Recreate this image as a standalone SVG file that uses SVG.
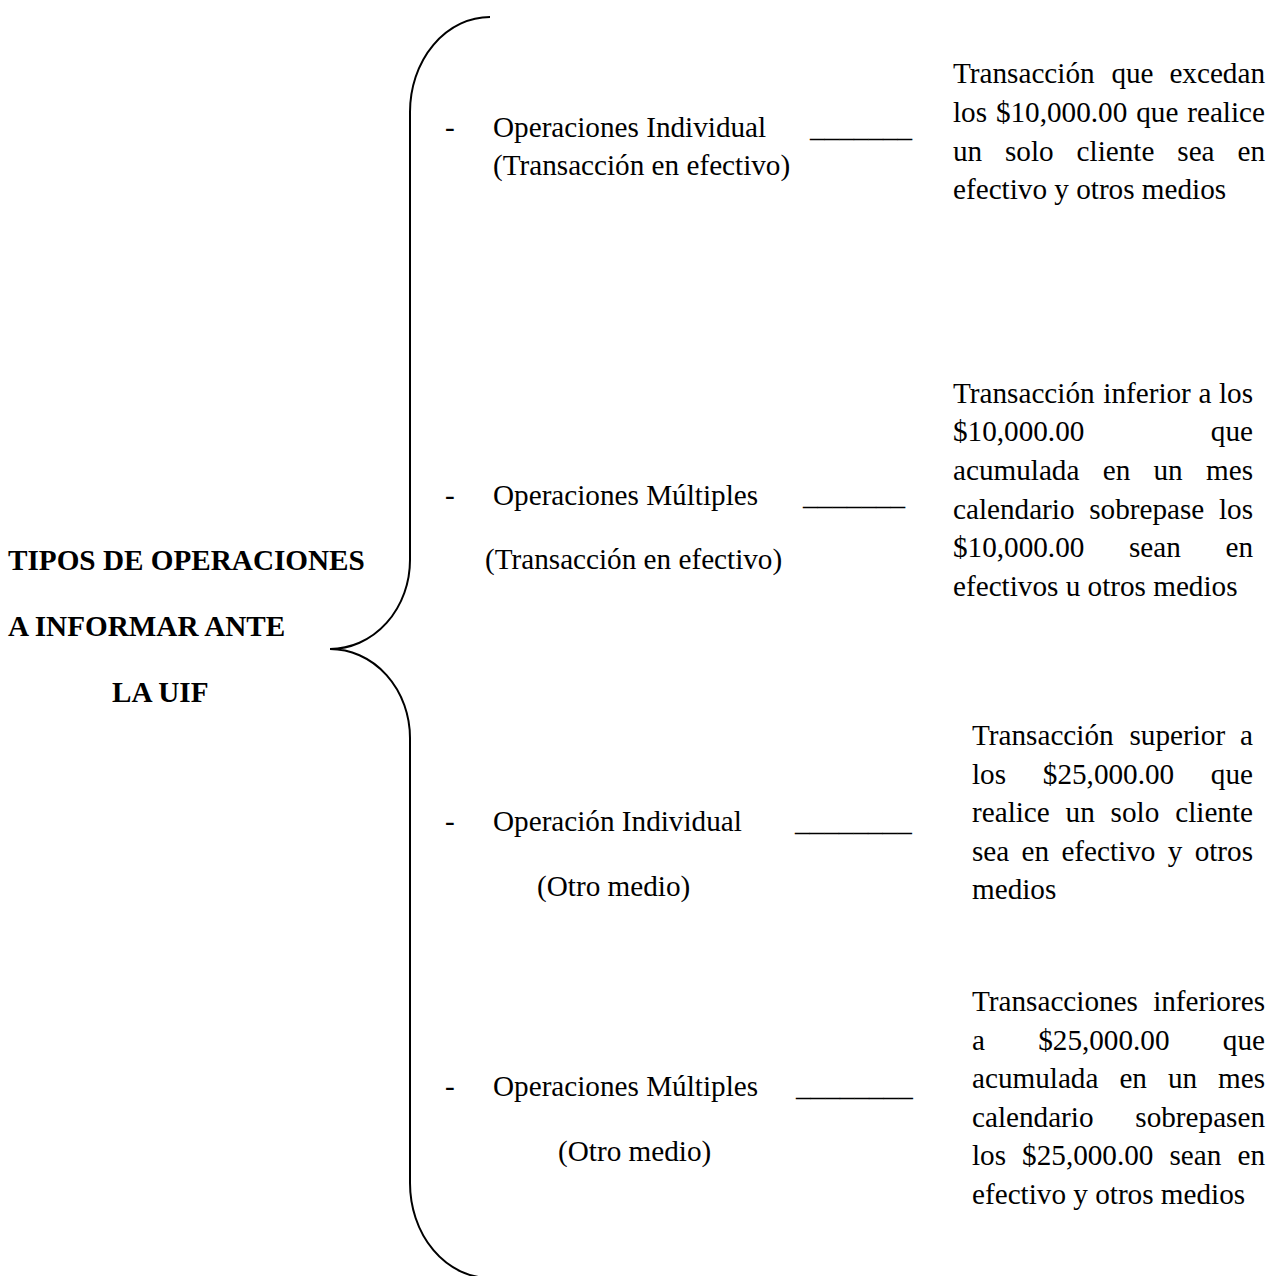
<svg xmlns="http://www.w3.org/2000/svg" width="1272" height="1276" viewBox="0 0 1272 1276">
<style>
text{font-family:"Liberation Serif","Times New Roman",serif;font-size:29.2px;fill:#000}
.b{font-weight:bold}
.e{text-anchor:end}
.brace{fill:none;stroke:#000;stroke-width:2}
</style>
<rect x="0" y="0" width="1272" height="1276" fill="#fff"/>
<g id="connectors">
<path class="brace" d="M490,17 A80,95 0 0 0 410,112 L410,560 A80,89 0 0 1 330,649 A80,89 0 0 1 410,738 L410,1183 A80,95 0 0 0 490,1278"/>
</g>
<g id="title">
<text class="b" x="8" y="570">TIPOS DE OPERACIONES</text>
<text class="b" x="8" y="636">A INFORMAR ANTE</text>
<text class="b" x="112" y="702">LA UIF</text>
</g>
<g id="item1">
<text x="445" y="137">-</text>
<text x="493" y="137">Operaciones Individual</text>
<text x="810" y="137">_______</text>
<text x="493" y="175">(Transacción en efectivo)</text>
</g>
<g id="item2">
<text x="445" y="505">-</text>
<text x="493" y="505">Operaciones Múltiples</text>
<text x="803" y="505">_______</text>
<text x="485" y="569">(Transacción en efectivo)</text>
</g>
<g id="item3">
<text x="445" y="831">-</text>
<text x="493" y="831">Operación Individual</text>
<text x="795" y="831">________</text>
<text x="537" y="896">(Otro medio)</text>
</g>
<g id="item4">
<text x="445" y="1096">-</text>
<text x="493" y="1096">Operaciones Múltiples</text>
<text x="796" y="1096">________</text>
<text x="558" y="1161">(Otro medio)</text>
</g>
<g id="desc1">
<text y="83.3"><tspan x="953">Transacción</tspan><tspan x="1111.4">que</tspan></text>
<text class="e" x="1265" y="83.3">excedan</text>
<text y="121.9"><tspan x="953">los</tspan><tspan x="995.9">$10,000.00</tspan><tspan x="1136.2">que</tspan></text>
<text class="e" x="1265" y="121.9">realice</text>
<text y="160.5"><tspan x="953">un</tspan><tspan x="1005">solo</tspan><tspan x="1076.6">cliente</tspan><tspan x="1177.3">sea</tspan></text>
<text class="e" x="1265" y="160.5">en</text>
<text x="953" y="199.1">efectivo y otros medios</text>
</g>
<g id="desc2">
<text y="402.7"><tspan x="953">Transacción</tspan><tspan x="1103.3">inferior</tspan><tspan x="1198.5">a</tspan></text>
<text class="e" x="1253" y="402.7">los</text>
<text x="953" y="441.3">$10,000.00</text>
<text class="e" x="1253" y="441.3">que</text>
<text y="479.9"><tspan x="953">acumulada</tspan><tspan x="1102.7">en</tspan><tspan x="1153.5">un</tspan></text>
<text class="e" x="1253" y="479.9">mes</text>
<text y="518.5"><tspan x="953">calendario</tspan><tspan x="1089.2">sobrepase</tspan></text>
<text class="e" x="1253" y="518.5">los</text>
<text y="557.1"><tspan x="953">$10,000.00</tspan><tspan x="1129">sean</tspan></text>
<text class="e" x="1253" y="557.1">en</text>
<text x="953" y="595.7">efectivos u otros medios</text>
</g>
<g id="desc3">
<text y="745"><tspan x="972">Transacción</tspan><tspan x="1129.5">superior</tspan></text>
<text class="e" x="1253" y="745">a</text>
<text y="783.6"><tspan x="972">los</tspan><tspan x="1042.8">$25,000.00</tspan></text>
<text class="e" x="1253" y="783.6">que</text>
<text y="822.2"><tspan x="972">realice</tspan><tspan x="1065.6">un</tspan><tspan x="1110.6">solo</tspan></text>
<text class="e" x="1253" y="822.2">cliente</text>
<text y="860.8"><tspan x="972">sea</tspan><tspan x="1021.6">en</tspan><tspan x="1061.4">efectivo</tspan><tspan x="1167.8">y</tspan></text>
<text class="e" x="1253" y="860.8">otros</text>
<text x="972" y="899.4">medios</text>
</g>
<g id="desc4">
<text x="972" y="1011">Transacciones</text>
<text class="e" x="1265" y="1011">inferiores</text>
<text y="1049.6"><tspan x="972">a</tspan><tspan x="1038.2">$25,000.00</tspan></text>
<text class="e" x="1265" y="1049.6">que</text>
<text y="1088.2"><tspan x="972">acumulada</tspan><tspan x="1119.4">en</tspan><tspan x="1167.9">un</tspan></text>
<text class="e" x="1265" y="1088.2">mes</text>
<text x="972" y="1126.8">calendario</text>
<text class="e" x="1265" y="1126.8">sobrepasen</text>
<text y="1165.4"><tspan x="972">los</tspan><tspan x="1022.1">$25,000.00</tspan><tspan x="1169.5">sean</tspan></text>
<text class="e" x="1265" y="1165.4">en</text>
<text x="972" y="1204">efectivo y otros medios</text>
</g>
</svg>
